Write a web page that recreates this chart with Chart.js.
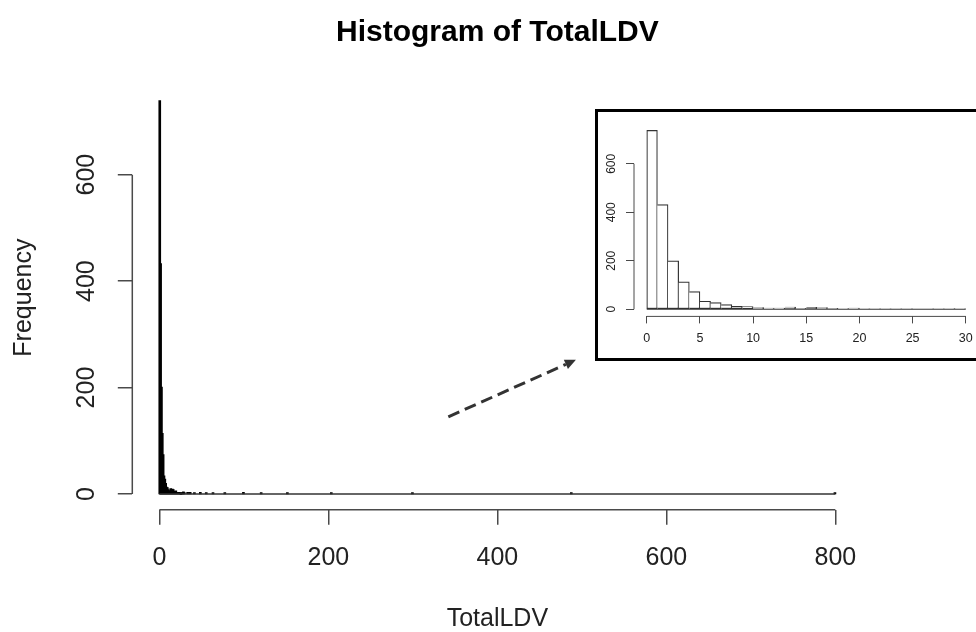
<!DOCTYPE html>
<html>
<head>
<meta charset="utf-8">
<title>Histogram of TotalLDV</title>
<script src="https://cdn.jsdelivr.net/npm/chart.js@4.4.1/dist/chart.umd.min.js"></script>
<style>
  html, body { margin: 0; padding: 0; background: #fff; }
  #wrap { position: relative; width: 976px; height: 632px; overflow: hidden; }
  canvas { display: block; }
  #inset {
    position: absolute; left: 595px; top: 109px;
    width: 420px; height: 252px;
    border: 3px solid #000; box-sizing: border-box;
    background: #fff; overflow: hidden;
  }
</style>
</head>
<body>
<div id="wrap">
  <canvas id="main" width="976" height="632"></canvas>
  <div id="inset"><canvas id="zoom" width="390" height="246"></canvas></div>
</div>
<script>
// --- data (bins are 1 unit wide) ---
const mainTitle = 'Histogram of TotalLDV';
const xTitle = 'TotalLDV';
const yTitle = 'Frequency';
const binWidth = 1;
// counts for bins [0,1), [1,2) ... [29,30)
const headCounts = [738, 432, 200, 113, 73, 33, 27, 19, 12, 11, 7, 5, 5, 9, 4, 8, 7, 4, 3, 5, 1, 1, 1, 2, 1, 0, 1, 1, 3, 1];
// the few non-empty bins further out (bin start, count)
const tailBins = [33, 36, 41, 48, 55, 63, 77, 99, 120, 151, 203, 299, 487, 799];
const tailCounts = [2, 2, 1, 2, 1, 1, 1, 2, 1, 1, 1, 1, 1, 1];
const mainRange = [0, 800];
const insetRange = [0, 30];
const mainXTicks = [0, 200, 400, 600, 800];
const mainYTicks = [0, 200, 400, 600];
const insetXTicks = [0, 5, 10, 15, 20, 25, 30];
const insetYTicks = [0, 200, 400, 600];

const FONT = "'Liberation Sans', Arial, Helvetica, sans-serif";
const INK = '#222';
const AXIS = '#4a4a4a';

// R style: 4% padding round the data range
const pad4 = ([a, b]) => [a - 0.04 * (b - a), b + 0.04 * (b - a)];
const yMax = Math.max(...headCounts, ...tailCounts);
const yLim = pad4([0, yMax]);

const headData = headCounts.map((c, i) => ({ x: i * binWidth + binWidth / 2, y: c }));
const tailData = tailBins.map((b, i) => ({ x: b + binWidth / 2, y: tailCounts[i] }));

// axis line only from first to last tick, like R's axis()
const axisLines = {
  id: 'axisLines',
  afterDraw(chart, args, opts) {
    const { ctx, chartArea } = chart;
    const xs = chart.scales.x, ys = chart.scales.y;
    const xt = xs.ticks, yt = ys.ticks;
    ctx.save();
    ctx.strokeStyle = AXIS;
    ctx.lineWidth = opts.width || 1;
    ctx.beginPath();
    ctx.moveTo(xs.getPixelForValue(xt[0].value), chartArea.bottom);
    ctx.lineTo(xs.getPixelForValue(xt[xt.length - 1].value), chartArea.bottom);
    ctx.moveTo(chartArea.left, ys.getPixelForValue(yt[0].value));
    ctx.lineTo(chartArea.left, ys.getPixelForValue(yt[yt.length - 1].value));
    ctx.stroke();
    ctx.restore();
  }
};

// dashed pointer from the spike to the zoomed panel (in data units)
const arrowFrom = [342, 145];
const arrowTo = [493, 252];
const arrowPlugin = {
  id: 'arrow',
  afterDraw(chart) {
    const { ctx } = chart;
    const xs = chart.scales.x, ys = chart.scales.y;
    const x1 = xs.getPixelForValue(arrowFrom[0]), y1 = ys.getPixelForValue(arrowFrom[1]);
    const x2 = xs.getPixelForValue(arrowTo[0]), y2 = ys.getPixelForValue(arrowTo[1]);
    const ang = Math.atan2(y2 - y1, x2 - x1);
    const head = 11;
    ctx.save();
    ctx.strokeStyle = '#333';
    ctx.fillStyle = '#333';
    ctx.lineWidth = 3;
    ctx.setLineDash([12, 6]);
    ctx.beginPath();
    ctx.moveTo(x1, y1);
    ctx.lineTo(x2 - head * Math.cos(ang), y2 - head * Math.sin(ang));
    ctx.stroke();
    ctx.setLineDash([]);
    ctx.beginPath();
    ctx.moveTo(x2, y2);
    ctx.lineTo(x2 - head * Math.cos(ang) + 5 * Math.sin(ang), y2 - head * Math.sin(ang) - 5 * Math.cos(ang));
    ctx.lineTo(x2 - head * Math.cos(ang) - 5 * Math.sin(ang), y2 - head * Math.sin(ang) + 5 * Math.cos(ang));
    ctx.closePath();
    ctx.fill();
    ctx.restore();
  }
};

function xScale(range, ticks, o) {
  const lim = pad4(range);
  return {
    type: 'linear', min: lim[0], max: lim[1], offset: false,
    afterBuildTicks: s => { s.ticks = ticks.map(v => ({ value: v })); },
    afterFit: s => { s.height = o.height; },
    grid: { display: true, offset: false, drawOnChartArea: false, drawTicks: true, tickLength: o.tl, color: AXIS, lineWidth: o.lw },
    border: { display: false },
    ticks: { font: { family: FONT, size: o.fs }, color: INK, padding: o.pad, maxRotation: 0, autoSkip: false },
    title: o.title ? { display: true, text: o.title, color: INK, font: { family: FONT, size: o.fs, lineHeight: 1 }, padding: { top: 0, bottom: 0 } } : { display: false }
  };
}

function yScale(ticks, o) {
  return {
    type: 'linear', min: yLim[0], max: yLim[1],
    afterBuildTicks: s => { s.ticks = ticks.map(v => ({ value: v })); },
    afterFit: s => { s.width = o.width; },
    grid: { display: true, offset: false, drawOnChartArea: false, drawTicks: true, tickLength: o.tl, color: AXIS, lineWidth: o.lw },
    border: { display: false },
    ticks: { font: { family: FONT, size: o.fs }, color: INK, padding: o.pad, minRotation: 90, maxRotation: 90, crossAlign: 'center', autoSkip: false },
    title: o.title ? { display: true, text: o.title, color: INK, font: { family: FONT, size: o.fs, lineHeight: 1 }, padding: { top: 12, bottom: 0 } } : { display: false }
  };
}

new Chart(document.getElementById('main'), {
  type: 'bar',
  data: {
    datasets: [
      {
        type: 'line', data: [{ x: mainRange[0], y: 0 }, { x: mainRange[1], y: 0 }],
        borderColor: '#333', borderWidth: 1.5, pointRadius: 0
      },
      {
        data: headData.concat(tailData),
        backgroundColor: '#000', borderWidth: 0, inflateAmount: 0.9,
        barPercentage: 1, categoryPercentage: 1, grouped: false
      }
    ]
  },
  options: {
    responsive: false, animation: false, devicePixelRatio: 1,
    layout: { padding: { left: 0, right: 113.6, top: 0, bottom: 0 } },
    scales: {
      x: xScale(mainRange, mainXTicks, { height: 122.3, tl: 15, lw: 1.5, fs: 25, pad: 18, title: xTitle }),
      y: yScale(mainYTicks, { width: 132.3, tl: 14.5, lw: 1.5, fs: 25, pad: 10, title: yTitle })
    },
    plugins: {
      legend: { display: false },
      tooltip: { enabled: false },
      title: {
        display: true, text: mainTitle, color: '#000', fullSize: false,
        font: { family: FONT, size: 30, weight: 'bold', lineHeight: 1.2 },
        padding: { top: 15, bottom: 34.5 }
      },
      axisLines: { width: 1.5 }
    }
  },
  plugins: [axisLines, arrowPlugin]
});

new Chart(document.getElementById('zoom'), {
  type: 'bar',
  data: {
    datasets: [
      {
        type: 'line', data: [{ x: insetRange[0], y: 0 }, { x: insetRange[1], y: 0 }],
        borderColor: '#333', borderWidth: 1, pointRadius: 0
      },
      {
        data: headData,
        backgroundColor: '#fff', borderColor: '#333', borderWidth: 1.2,
        borderSkipped: c => (c.dataIndex === 0 ? false : 'left'),
        barPercentage: 1, categoryPercentage: 1, grouped: false
      }
    ]
  },
  options: {
    responsive: false, animation: false, devicePixelRatio: 1,
    layout: { padding: { left: 0, right: 9.5, top: 4.2, bottom: 0 } },
    scales: {
      x: xScale(insetRange, insetXTicks, { height: 41.6, tl: 7, lw: 1, fs: 12.5, pad: 8 }),
      y: yScale(insetYTicks, { width: 36, tl: 8, lw: 1, fs: 12, pad: 4 })
    },
    plugins: {
      legend: { display: false },
      tooltip: { enabled: false },
      axisLines: { width: 1 }
    }
  },
  plugins: [axisLines]
});
</script>
</body>
</html>
